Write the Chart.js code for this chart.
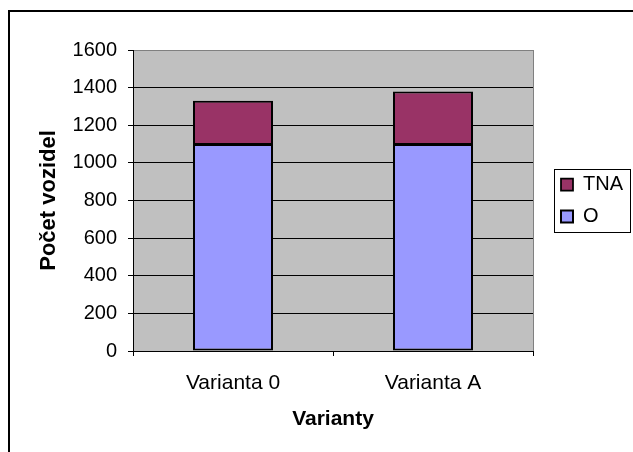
<!DOCTYPE html>
<html>
<head>
<meta charset="utf-8">
<script src="https://cdn.jsdelivr.net/npm/chart.js@4/dist/chart.umd.min.js"></script>
<style>
html,body{margin:0;padding:0;background:#fff;}
canvas{display:block;}
</style>
</head>
<body>
<canvas id="c" width="633" height="452"></canvas>
<script>
const categories = ['Varianta 0', 'Varianta A'];
const seriesNames = ['O', 'TNA'];
const oValues = [1100, 1100];
const tnaValues = [230, 280];
const yTicks = [0, 200, 400, 600, 800, 1000, 1200, 1400, 1600];
const yTitle = 'Počet vozidel';
const xTitle = 'Varianty';

const FONT = "'Liberation Sans', Arial, sans-serif";
const LEGEND_PAD = 12;

const decor = {
  id: 'decor',
  afterLayout(chart) {
    const lg = chart.legend;
    const shift = (chart.chartArea.right + 28 - LEGEND_PAD) - lg.left;
    lg.left += shift;
    lg.right += shift;
  },
  beforeDraw(chart) {
    const ctx = chart.ctx, a = chart.chartArea;
    ctx.save();
    ctx.fillStyle = '#fff';
    ctx.fillRect(0, 0, chart.width, chart.height);
    ctx.fillStyle = '#C0C0C0';
    ctx.fillRect(a.left, a.top, a.right - a.left, a.bottom - a.top);
    ctx.restore();
  },
  beforeDatasetsDraw(chart) {
    const ctx = chart.ctx, a = chart.chartArea;
    ctx.save();
    ctx.strokeStyle = '#808080';
    ctx.lineWidth = 1;
    ctx.beginPath();
    ctx.moveTo(Math.round(a.right) + 0.5, a.top);
    ctx.lineTo(Math.round(a.right) + 0.5, a.bottom);
    ctx.stroke();
    ctx.restore();
  },
  afterDraw(chart) {
    const ctx = chart.ctx;
    ctx.save();
    ctx.strokeStyle = '#000';
    ctx.lineWidth = 2;
    ctx.strokeRect(9, 11, 800, 600);
    const hb = chart.legend.legendHitBoxes;
    if (hb && hb.length) {
      let l = Infinity, t = Infinity, b = -Infinity;
      hb.forEach(h => { l = Math.min(l, h.left); t = Math.min(t, h.top); b = Math.max(b, h.top + h.height); });
      ctx.lineWidth = 1;
      ctx.strokeStyle = '#000';
      const x0 = Math.round(l - 7) + 0.5, y0 = Math.round(t - 6) + 0.5;
      const y1 = Math.round(b + 5) + 0.5;
      ctx.strokeRect(x0, y0, 630.5 - x0, y1 - y0);
    }
    ctx.restore();
  }
};

new Chart(document.getElementById('c'), {
  type: 'bar',
  data: {
    labels: categories,
    datasets: [
      {
        label: seriesNames[0],
        data: oValues,
        backgroundColor: '#9999FF',
        borderColor: '#000',
        borderWidth: 2,
        borderSkipped: false
      },
      {
        label: seriesNames[1],
        data: tnaValues,
        backgroundColor: '#993366',
        borderColor: '#000',
        borderWidth: {top: 2, left: 2, right: 2, bottom: 1},
        borderSkipped: false
      }
    ]
  },
  options: {
    responsive: false,
    animation: false,
    devicePixelRatio: 1,
    categoryPercentage: 1,
    barPercentage: 0.4,
    layout: { padding: { left: 0, top: 50, right: 16, bottom: 0 } },
    plugins: {
      tooltip: { enabled: false },
      legend: {
        position: 'right',
        fullSize: false,
        reverse: true,
        labels: {
          boxWidth: 12,
          boxHeight: 12,
          padding: LEGEND_PAD,
          color: '#000',
          font: { family: FONT, size: 20 }
        }
      }
    },
    scales: {
      x: {
        stacked: true,
        afterFit(s) { s.height = 101; },
        border: { color: '#000', width: 1 },
        grid: { drawOnChartArea: false, drawTicks: true, tickLength: 5, color: '#000', offset: true },
        ticks: { color: '#000', padding: 15, font: { family: FONT, size: 21 }, maxRotation: 0 },
        title: { display: true, text: xTitle, color: '#000', padding: { top: 0, bottom: 20 }, font: { family: FONT, size: 21, weight: 'bold' } }
      },
      y: {
        stacked: true,
        min: 0,
        max: 1600,
        afterFit(s) { s.width = 133; },
        afterBuildTicks(s) { s.ticks = yTicks.map(v => ({ value: v })); },
        border: { color: '#000', width: 1 },
        grid: {
          color: c => (c.tick && c.tick.value === 1600) ? '#808080' : '#000',
          tickColor: '#000',
          tickLength: 5,
          drawTicks: true
        },
        ticks: { color: '#000', padding: 11, font: { family: FONT, size: 20 }, callback: v => String(v) },
        title: { display: true, text: yTitle, color: '#000', padding: { top: 36, bottom: 0 }, font: { family: FONT, size: 22, weight: 'bold' } }
      }
    }
  },
  plugins: [decor]
});
</script>
</body>
</html>
